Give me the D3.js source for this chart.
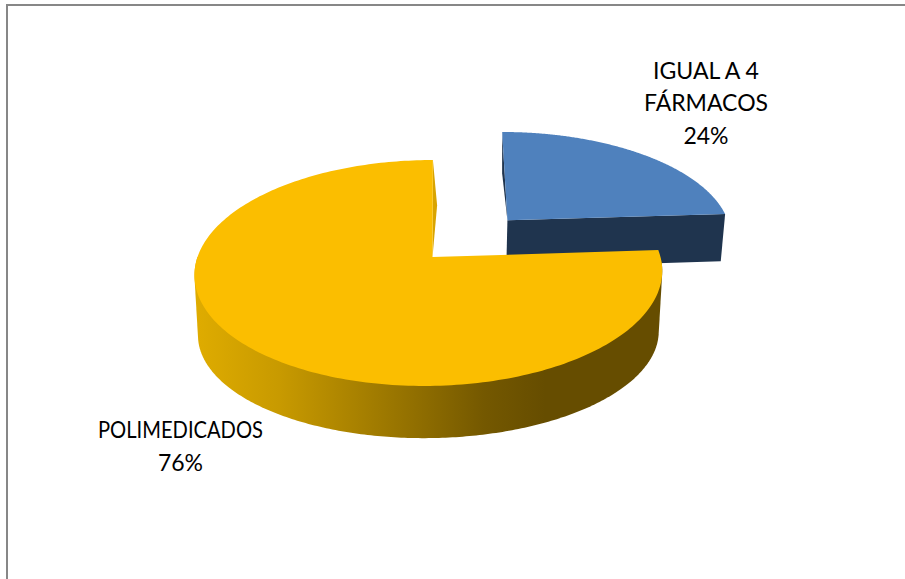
<!DOCTYPE html>
<html><head><meta charset="utf-8">
<script src="https://cdnjs.cloudflare.com/ajax/libs/d3/7.8.5/d3.min.js"></script>
<style>html,body{margin:0;padding:0;background:#fff}svg{display:block}</style>
</head><body><svg id="c" width="905" height="579"></svg>
<script>
const categories = ["IGUAL A 4 FÁRMACOS", "POLIMEDICADOS"];
const values = [24, 76];
const labelLines = [["IGUAL A 4", "FÁRMACOS", "24%"], ["POLIMEDICADOS", "76%"]];
const topColors = ["#4f81bd", "#fbbe00"];
const wallColors = ["#1f344e", "#d9a400"];

const W = 905, H = 579;
const svg = d3.select("#c").attr("viewBox", [0, 0, W, H]);
svg.append("rect").attr("width", W).attr("height", H).attr("fill", "#fff");

// frame
svg.append("path").attr("d", d3.line()([[7, H], [7, 5], [W, 5]]))
  .attr("fill", "none").attr("stroke", "#878787").attr("stroke-width", 2);

// perspective projection of a unit disc lying flat
const k = 0.1416, x0 = 429, y0 = 257, B = 231.5, A = 110.7, skew = -0.04, bottomShrink = 0.985;
function project(u, v, down, s) {
  const w = 1 - k * v;
  const y = y0 + A * v / w;
  if (!down) return [x0 + s.dx + B * u / w + skew * (y - y0), y + s.dy];
  const yb = y0 + s.flat * (y - y0);
  return [x0 + s.dx + bottomShrink * B * u / w + skew * (y - y0), yb + s.dy + s.depth / w];
}
const line = d3.line();
const pie = d3.pie().sort(null).startAngle(0).endAngle(2 * Math.PI)(values);
const explode = [0.49, 0];
const bottomFlat = [1, 0.85];
const bottomDepth = [50, 61.4];
const shiftX = [3, 0];
const shiftY = [1, 0];
const slices = pie.map((p, i) => {
  const mid = (p.startAngle + p.endAngle) / 2;
  return { a0: p.startAngle, a1: p.endAngle, flat: bottomFlat[i], depth: bottomDepth[i],
    dx: shiftX[i], dy: shiftY[i],
    ox: explode[i] * Math.sin(mid), oy: -explode[i] * Math.cos(mid) };
});
const rim = (s, down, from = s.a0, to = s.a1) =>
  d3.range(0, 241).map(t => {
    const a = from + (to - from) * t / 240;
    return project(s.ox + Math.sin(a), s.oy - Math.cos(a), down, s);
  });
const apex = (s, down) => project(s.ox, s.oy, down, s);

// shading of the outer wall
const grad = svg.append("defs").append("linearGradient").attr("id", "side")
  .attr("gradientUnits", "userSpaceOnUse").attr("x1", 195).attr("x2", 662).attr("y1", 0).attr("y2", 0);
[[0, "#dfac00"], [0.18, "#c89a00"], [0.45, "#957200"], [0.62, "#745800"], [0.75, "#664d00"], [1, "#664d00"]]
  .forEach(d => grad.append("stop").attr("offset", d[0]).attr("stop-color", d[1]));

const blue = slices[0], gold = slices[1];

// blue slice: cut wall, sliver, top
const bEnd = rim(blue, false, blue.a1, blue.a1)[0], bEndD = rim(blue, true, blue.a1, blue.a1)[0];
svg.append("path").attr("fill", wallColors[0])
  .attr("d", line([apex(blue, false), bEnd, bEndD, apex(blue, true)]) + "Z");
svg.append("path").attr("fill", wallColors[0])
  .attr("d", line([apex(blue, false), project(blue.ox - 0.012, blue.oy - 0.5, false, blue), project(blue.ox, blue.oy - 1, false, blue)]) + "Z");
svg.append("path").attr("fill", topColors[0])
  .attr("d", line([apex(blue, false), ...rim(blue, false)]) + "Z");

// gold slice: outer wall as the hull of the visible top and bottom rims, sliver, top
const goldApexShift = 3.5;
const goldApex = apex(gold, false).map((c, i) => i === 0 ? c + goldApexShift : c);
const wallFrom = gold.a0 + 0.105, wallTo = Math.PI * 1.5;
const wallHull = d3.polygonHull([...rim(gold, false, wallFrom, wallTo), ...rim(gold, true, wallFrom, wallTo)]);
svg.append("path").attr("fill", "url(#side)").attr("d", line(wallHull) + "Z");
svg.append("path").attr("fill", wallColors[1])
  .attr("d", line([goldApex, project(gold.ox + 0.028, gold.oy - 0.5, false, gold), project(gold.ox, gold.oy - 1, false, gold)]) + "Z");
svg.append("path").attr("fill", topColors[1])
  .attr("d", line([goldApex, ...rim(gold, false)]) + "Z");

// labels
const labelAnchors = [[706, 78.5], [180.5, 437.5]];
const lineSteps = [32.5, 33];
const squeezed = { "IGUAL A 4": 106, "POLIMEDICADOS": 165 };
labelLines.forEach((lines, i) => {
  lines.forEach((l, j) => {
    const t = svg.append("text").attr("text-anchor", "middle")
      .attr("font-family", "Lato, 'Open Sans', sans-serif").attr("font-size", 23).attr("fill", "#000")
      .attr("x", labelAnchors[i][0]).attr("y", labelAnchors[i][1] + j * lineSteps[i]).text(l);
    if (squeezed[l]) t.attr("textLength", squeezed[l]).attr("lengthAdjust", "spacingAndGlyphs");
  });
});
</script></body></html>
